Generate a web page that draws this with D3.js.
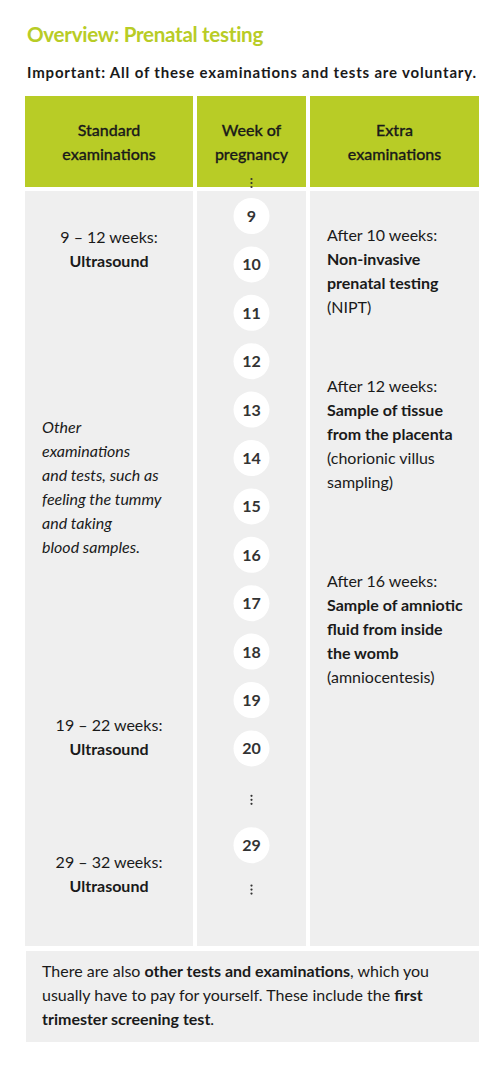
<!DOCTYPE html>
<html><head><meta charset="utf-8">
<script src="https://cdn.jsdelivr.net/npm/d3@7"></script>
<style>body{margin:0;background:#fff}</style>
</head><body><div id="chart"></div>
<script>
// data
const TITLE = 'Overview: Prenatal testing'
const SUBTITLE = 'Important: All of these examinations and tests are voluntary.'
const headers = [['Standard', 'examinations'], ['Week of', 'pregnancy'], ['Extra', 'examinations']]
const slots = ['9', '10', '11', '12', '13', '14', '15', '16', '17', '18', '19', '20', 'gap', '29', 'end']
const weeks = ['9', '10', '11', '12', '13', '14', '15', '16', '17', '18', '19', '20', '29']
// standard examinations: [anchor week slot, lines] ; each line [text, bold]
const standard = [
  { at: '9', dy: 27, lines: [['9 – 12 weeks:', false], ['Ultrasound', true]] },
  { at: '19', dy: 31, lines: [['19 – 22 weeks:', false], ['Ultrasound', true]] },
  { at: '29', dy: 23, lines: [['29 – 32 weeks:', false], ['Ultrasound', true]] }
]
const otherExams = ['Other', 'examinations', 'and tests, such as', 'feeling the tummy', 'and taking', 'blood samples.']
const extra = [
  { at: '9', dy: 25, lines: [['After 10 weeks:', false], ['Non-invasive', true], ['prenatal testing', true], ['(NIPT)', false]] },
  { at: '12', dy: 31, lines: [['After 12 weeks:', false], ['Sample of tissue', true], ['from the placenta', true], ['(chorionic villus', false], ['sampling)', false]] },
  { at: '16', dy: 32, lines: [['After 16 weeks:', false], ['Sample of amniotic', true], ['fluid from inside', true], ['the womb', true], ['(amniocentesis)', false]] }
]
const footer = [
  [['There are also ', false], ['other tests and examinations', true], [', which you', false]],
  [['usually have to pay for yourself. These include the ', false], ['first', true]],
  [['trimester screening test', true], ['.', false]]
]

const W = 500, H = 1067
const green = '#b8cc26', grey = '#efefef', ink = '#1a1a1a'
const font = 'Lato, "Noto Sans", sans-serif'
const svg = d3.select('#chart').append('svg').attr('width', W).attr('height', H)
  .style('font-family', font)

const cols = d3.scaleOrdinal().domain([0, 1, 2]).range([[25, 193], [197, 306], [310, 479]])
const y = d3.scalePoint().domain(slots).range([216, 216 + 14 * 48.4])

svg.append('text').attr('x', 27).attr('y', 42).attr('fill', green)
  .attr('font-size', 20.6).attr('font-weight', 700).attr('letter-spacing', -0.3).text(TITLE)
svg.append('text').attr('x', 27).attr('y', 78).attr('fill', ink)
  .attr('font-size', 15).attr('font-weight', 700).attr('textLength', 449).text(SUBTITLE)

// header + body cells
headers.forEach((h, i) => {
  const [x0, x1] = cols(i)
  svg.append('rect').attr('x', x0).attr('y', 96).attr('width', x1 - x0).attr('height', 91).attr('fill', green)
  svg.append('rect').attr('x', x0).attr('y', 191).attr('width', x1 - x0).attr('height', 755).attr('fill', grey)
  h.forEach((t, j) => svg.append('text').attr('x', (x0 + x1) / 2).attr('y', 136 + j * 24)
    .attr('text-anchor', 'middle').attr('font-size', 16).attr('font-weight', 500)
    .attr('fill', ink).attr('stroke', ink).attr('stroke-width', 0.3).text(t))
})
svg.append('rect').attr('x', 26).attr('y', 951).attr('width', 453).attr('height', 91).attr('fill', grey)

// week circles
const cx = (cols(1)[0] + cols(1)[1]) / 2
const g = svg.append('g')
g.selectAll('circle').data(weeks).join('circle')
  .attr('cx', cx).attr('cy', d => y(d)).attr('r', 18).attr('fill', '#fff')
g.selectAll('text').data(weeks).join('text')
  .attr('x', cx).attr('y', d => y(d) + 6).attr('text-anchor', 'middle')
  .attr('font-size', 16).attr('font-weight', 700).attr('fill', '#333').text(d => d)

// vertical ellipses
const dots = [y('9') - 33, y('gap') + 3, y('end') - 4]
dots.forEach(d0 => [-4, 0, 4].forEach(o => svg.append('circle')
  .attr('cx', cx).attr('cy', d0 + o).attr('r', 1.1).attr('fill', '#333')))

function block(lines, x, y0, anchor) {
  const t = svg.append('g')
  lines.forEach(([s, b], j) => t.append('text').attr('x', x).attr('y', y0 + j * 24)
    .attr('text-anchor', anchor).attr('font-size', 16).attr('fill', ink)
    .attr('font-weight', b ? 700 : 400).text(s))
}
const sx = (cols(0)[0] + cols(0)[1]) / 2
standard.forEach(s => block(s.lines, sx, y(s.at) + s.dy, 'middle'))
extra.forEach(s => block(s.lines, 327, y(s.at) + s.dy, 'start'))
otherExams.forEach((t, j) => svg.append('text').attr('x', 42).attr('y', 433 + j * 24)
  .attr('font-size', 16).attr('font-style', 'italic').attr('fill', ink).text(t))

footer.forEach((line, j) => {
  const t = svg.append('text').attr('x', 42).attr('y', 977 + j * 24).attr('font-size', 16).attr('fill', ink)
  line.forEach(([s, b]) => t.append('tspan').attr('font-weight', b ? 700 : 400).text(s))
})
</script></body></html>
